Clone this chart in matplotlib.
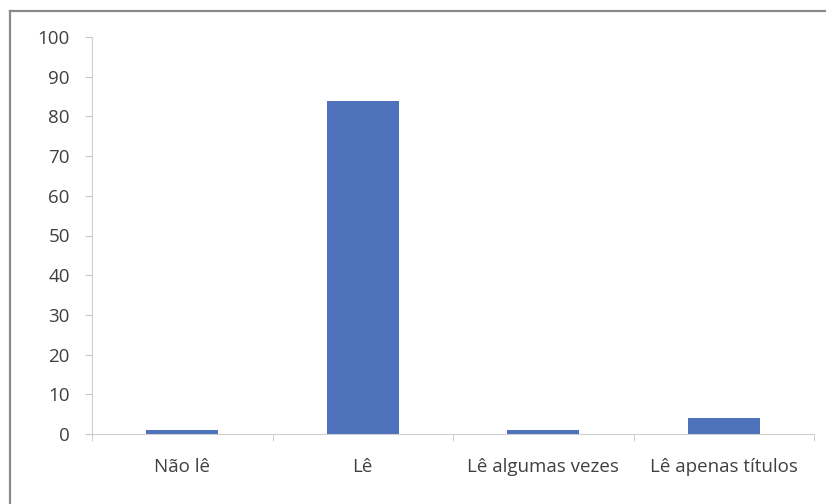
import matplotlib
matplotlib.use("Agg")
import matplotlib.pyplot as plt
from matplotlib.lines import Line2D

categories = ["Não lê", "Lê", "Lê algumas vezes", "Lê apenas títulos"]
values = [1, 84, 1, 4]
y_ticks = list(range(0, 101, 10))

plt.rcParams['font.family'] = ['Open Sans', 'DejaVu Sans']

W, H = 826, 504
fig = plt.figure(figsize=(W / 100, H / 100), dpi=100)
fig.patch.set_facecolor("white")

# outer chart frame (top and left edges)
fig.add_artist(Line2D([9.5 / W, 1.0], [1 - 10.5 / H, 1 - 10.5 / H],
                      transform=fig.transFigure, color="#8a8a8a", lw=1.6))
fig.add_artist(Line2D([9.5 / W, 9.5 / W], [0.0, 1 - 10.5 / H],
                      transform=fig.transFigure, color="#8a8a8a", lw=1.6))

left, right = 92 / W, 814 / W
bottom, top = 1 - 434 / H, 1 - 37 / H
ax = fig.add_axes([left, bottom, right - left, top - bottom])
ax.set_facecolor("white")

x = list(range(len(categories)))
ax.bar(x, values, width=0.4, color="#4f72bc", zorder=3)

ax.set_xlim(-0.5, len(categories) - 0.5)
ax.set_ylim(0, 100)
ax.set_yticks(y_ticks)
ax.set_yticklabels([str(t) for t in y_ticks], fontsize=13.5, color="#404040")

ax.set_xticks(x)
ax.set_xticklabels(categories, fontsize=13.5, color="#404040")
ax.set_xticks([i - 0.5 for i in range(len(categories) + 1)], minor=True)
ax.tick_params(axis="x", which="major", length=0, pad=17)
ax.tick_params(axis="x", which="minor", length=5, color="#c8c8c8", direction="out")
ax.tick_params(axis="y", length=5, color="#c8c8c8", direction="out", pad=11)

for side in ("top", "right"):
    ax.spines[side].set_visible(False)
ax.spines["left"].set_color("#d0d0d0")
ax.spines["bottom"].set_color("#d0d0d0")

fig.savefig("out.png", dpi=100, facecolor="white")
